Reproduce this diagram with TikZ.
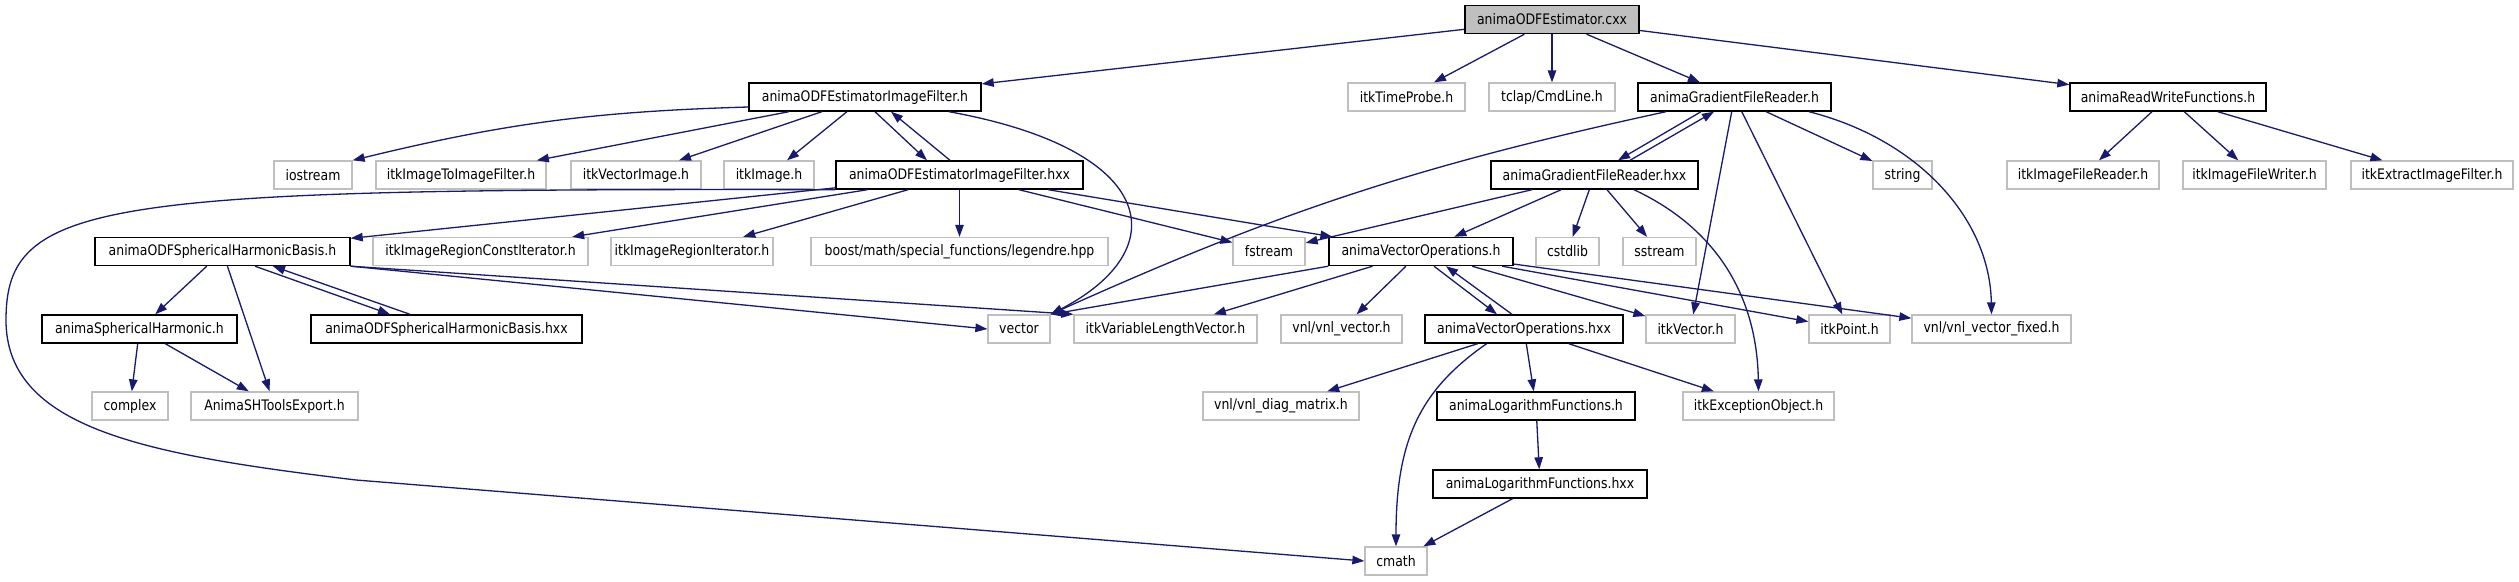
\documentclass[tikz,border=0pt]{standalone}
\usepackage{fontspec}
\setmainfont{DejaVu Sans}[FakeStretch=0.86]
\usetikzlibrary{arrows.meta,calc}
\definecolor{edgec}{HTML}{191970}
\definecolor{lgray}{HTML}{BFBFBF}
\tikzset{
  nbase/.style={rectangle, minimum height=28, inner sep=0pt, font=\fontsize{14.5}{16}\selectfont, fill=white},
  doc/.style={nbase, draw=black, line width=1.4pt},
  ext/.style={nbase, draw=lgray, line width=1.3pt},
  e/.style={draw=edgec, line width=1.3pt, -{Triangle[length=12pt,width=8.5pt]}}
}
\begin{document}
\begin{tikzpicture}[x=1pt,y=1pt]
\useasboundingbox[fill=white] (0,0) rectangle (2519,-581);
% row A
\node[doc,fill=lgray,minimum width=174] (cxx) at (1552,-19.5) {animaODFEstimator.cxx};
% row B
\node[doc,minimum width=232] (odfh) at (865,-97) {animaODFEstimatorImageFilter.h};
\node[ext,minimum width=117] (timeprobe) at (1406.5,-97) {itkTimeProbe.h};
\node[ext,minimum width=126] (tclap) at (1552,-97) {tclap/CmdLine.h};
\node[doc,minimum width=193] (gfrh) at (1734.5,-97) {animaGradientFileReader.h};
\node[doc,minimum width=196] (rwf) at (2168,-97) {animaReadWriteFunctions.h};
% row C
\node[ext,minimum width=78] (iostream) at (313,-175) {iostream};
\node[ext,minimum width=170] (itkitif) at (461,-175) {itkImageToImageFilter.h};
\node[ext,minimum width=130] (itkvi) at (636,-175) {itkVectorImage.h};
\node[ext,minimum width=90] (itkimage) at (769,-175) {itkImage.h};
\node[doc,minimum width=247] (odfhxx) at (959.5,-175) {animaODFEstimatorImageFilter.hxx};
\node[doc,minimum width=207] (gfrhxx) at (1594.5,-175) {animaGradientFileReader.hxx};
\node[ext,minimum width=59] (string) at (1902.5,-175) {string};
\node[ext,minimum width=152] (ifr) at (2083,-175) {itkImageFileReader.h};
\node[ext,minimum width=143] (ifw) at (2254.5,-175) {itkImageFileWriter.h};
\node[ext,minimum width=162] (eif) at (2432,-175) {itkExtractImageFilter.h};
% row D
\node[doc,minimum width=255] (shbh) at (222.5,-251.5) {animaODFSphericalHarmonicBasis.h};
\node[ext,minimum width=215] (ircit) at (480.5,-251.5) {itkImageRegionConstIterator.h};
\node[ext,minimum width=162] (irit) at (692,-251.5) {itkImageRegionIterator.h};
\node[ext,minimum width=297] (boost) at (959.5,-251.5) {boost/math/special\_functions/legendre.hpp};
\node[ext,minimum width=72] (fstream) at (1269,-251.5) {fstream};
\node[doc,minimum width=184] (voh) at (1421,-251.5) {animaVectorOperations.h};
\node[ext,minimum width=63] (cstdlib) at (1567.5,-251.5) {cstdlib};
\node[ext,minimum width=73] (sstream) at (1659.5,-251.5) {sstream};
% row E
\node[doc,minimum width=195] (sh) at (139.5,-329) {animaSphericalHarmonic.h};
\node[doc,minimum width=271] (shbhxx) at (446.5,-329) {animaODFSphericalHarmonicBasis.hxx};
\node[ext,minimum width=62] (vector) at (1019,-329) {vector};
\node[ext,minimum width=183] (vlv) at (1165.5,-329) {itkVariableLengthVector.h};
\node[ext,minimum width=121] (vnlvec) at (1341.5,-329) {vnl/vnl\_vector.h};
\node[doc,minimum width=198] (vohxx) at (1524,-329) {animaVectorOperations.hxx};
\node[ext,minimum width=89] (itkvector) at (1690.5,-329) {itkVector.h};
\node[ext,minimum width=81] (itkpoint) at (1849.5,-329) {itkPoint.h};
\node[ext,minimum width=159] (vnlfixed) at (1991.5,-329) {vnl/vnl\_vector\_fixed.h};
% row F
\node[ext,minimum width=76] (complex) at (130,-406) {complex};
\node[ext,minimum width=167] (shtools) at (274.5,-406) {AnimaSHToolsExport.h};
\node[ext,minimum width=156] (diag) at (1281,-406) {vnl/vnl\_diag\_matrix.h};
\node[doc,minimum width=198] (logh) at (1536,-406) {animaLogarithmFunctions.h};
\node[ext,minimum width=151] (exc) at (1758.5,-406) {itkExceptionObject.h};
% row G, H
\node[doc,minimum width=214] (loghxx) at (1540,-484) {animaLogarithmFunctions.hxx};
\node[ext,minimum width=62] (cmath) at (1396,-561) {cmath};

% edges from cxx
\draw[e] (cxx) -- (odfh);
\draw[e] (cxx) -- (timeprobe);
\draw[e] (cxx) -- (tclap);
\draw[e] (cxx) -- (gfrh);
\draw[e] (cxx) -- (rwf);
% ODFEstimatorImageFilter.h
\draw[e] ($(odfh.west)+(0,-10)$) to[bend right=6] (iostream.north east);
\draw[e] (odfh) -- (itkitif);
\draw[e] (odfh) -- (itkvi);
\draw[e] (odfh) -- (itkimage);
\draw[e] ($(odfh.south)+(10,0)$) -- ($(odfhxx.north)+(-32.5,0)$);
\draw[e] ($(odfhxx.north)+(-9.5,0)$) -- ($(odfh.south)+(26,0)$);
\draw[e] ($(odfh.south)+(84,0)$) .. controls (1160,-150) and (1175,-250) .. (vector.north east);
% ODFEstimatorImageFilter.hxx
\draw[e] (odfhxx) -- (shbh);
\draw[e] (odfhxx) -- (ircit);
\draw[e] (odfhxx) -- (irit);
\draw[e] (odfhxx) -- (boost);
\draw[e] (odfhxx) -- (fstream);
\draw[e] (odfhxx) -- (voh);
\draw[e] (odfhxx.south west) .. controls (100,-188) and (6,-200) .. (6,-320)
   .. controls (6,-430) and (150,-455) .. (356,-480) -- (cmath.west);
% GradientFileReader.h
\draw[e] ($(gfrh.south)+(-33.5,0)$) -- ($(gfrhxx.north)+(23.5,0)$);
\draw[e] ($(gfrhxx.north)+(35.5,0)$) -- ($(gfrh.south)+(-20.5,0)$);
\draw[e] ($(gfrh.south)+(-68.5,0)$) to[bend right=6] (vector.north east);
\draw[e] (gfrh) -- (string);
\draw[e] (gfrh) -- (itkvector);
\draw[e] (gfrh) -- (itkpoint);
\draw[e] ($(gfrh.south)+(74.5,0)$) .. controls (1920,-140) and (1990,-220) .. (vnlfixed.north);
% GradientFileReader.hxx
\draw[e] (gfrhxx) -- (fstream);
\draw[e] (gfrhxx) -- (voh);
\draw[e] (gfrhxx) -- (cstdlib);
\draw[e] (gfrhxx) -- (sstream);
\draw[e] ($(gfrhxx.south)+(39.5,0)$) .. controls (1720,-230) and (1757,-300) .. (exc.north);
% ReadWriteFunctions.h
\draw[e] (rwf) -- (ifr);
\draw[e] (rwf) -- (ifw);
\draw[e] (rwf) -- (eif);
% SphericalHarmonicBasis.h
\draw[e] (shbh) -- (sh);
\draw[e] (shbh) -- (shtools);
\draw[e] ($(shbh.south)+(32.5,0)$) -- ($(shbhxx.north)+(-56.5,0)$);
\draw[e] ($(shbhxx.north)+(-36.5,0)$) -- ($(shbh.south)+(50.5,0)$);
\draw[e] (shbh.south east) -- (vector.west);
\draw[e] (shbh.south east) -- (vlv.north west);
% SphericalHarmonic.h
\draw[e] (sh) -- (complex);
\draw[e] (sh) -- (shtools);
% VectorOperations.h
\draw[e] (voh.south west) -- (vector.north east);
\draw[e] (voh) -- (vlv);
\draw[e] (voh) -- (vnlvec);
\draw[e] ($(voh.south)+(13,0)$) -- ($(vohxx.north)+(-27,0)$);
\draw[e] ($(vohxx.north)+(-12,0)$) -- ($(voh.south)+(25,0)$);
\draw[e] (voh) -- (itkvector);
\draw[e] (voh) -- (itkpoint);
\draw[e] (voh) -- (vnlfixed);
% VectorOperations.hxx
\draw[e] (vohxx) -- (diag);
\draw[e] (vohxx) -- (logh);
\draw[e] (vohxx) -- (exc);
\draw[e] ($(vohxx.south)+(-37.4,0)$) .. controls (1420,-390) and (1396,-440) .. (cmath.north);
% Logarithm
\draw[e] (logh) -- (loghxx);
\draw[e] (loghxx) -- (cmath);
\end{tikzpicture}
\end{document}
